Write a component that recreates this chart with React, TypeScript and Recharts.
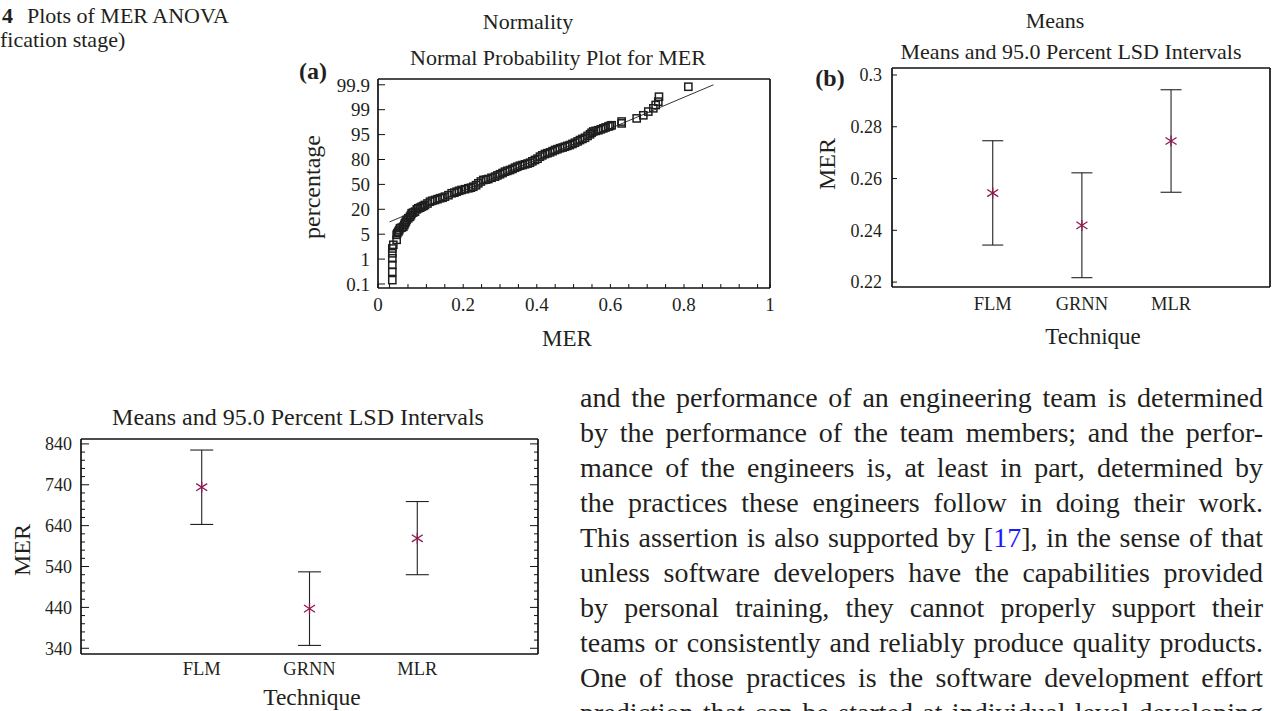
import React from 'react';
import { ScatterChart, Scatter, XAxis, YAxis, ErrorBar } from 'recharts';

const FONT = "'Liberation Serif', 'Times New Roman', Times, serif";
const INK = '#231f20';
const STAR = '#8c1a50';

// ---------- (a) Normal probability plot for MER ----------
const normMER = [
  0.0074, 0.0074, 0.0074, 0.0074, 0.0074, 0.0074, 0.0101, 0.0192, 0.0192, 0.0237, 0.0283, 0.0373, 0.0418, 0.0464, 0.0554, 0.06, 0.069, 0.078, 0.0871, 0.0962, 0.1098, 0.1234, 0.137, 0.1505, 0.1687, 0.1823, 0.1958, 0.214, 0.2275, 0.2411, 0.2547, 0.2683, 0.2864, 0.3, 0.3136, 0.3272, 0.3408, 0.3543, 0.3679, 0.3815, 0.395, 0.4087, 0.4223, 0.4359, 0.4495, 0.463, 0.4766, 0.49, 0.5038, 0.5174, 0.531, 0.5446, 0.5536, 0.5672, 0.5808, 0.5944, 0.6034, 0.6306, 0.6714, 0.6895, 0.703, 0.7167, 0.723, 0.7302, 0.732, 0.8118,
  0.021, 0.026, 0.033, 0.04, 0.044, 0.051, 0.058, 0.064, 0.074, 0.083, 0.092, 0.103, 0.116, 0.13, 0.144, 0.16, 0.176, 0.189, 0.205, 0.221, 0.235, 0.248, 0.262, 0.277, 0.293, 0.307, 0.32, 0.334, 0.347, 0.361, 0.375, 0.388, 0.402, 0.415, 0.429, 0.443, 0.456, 0.47, 0.483, 0.497, 0.511, 0.524, 0.538, 0.549, 0.56, 0.574, 0.587, 0.599, 0.6306,
];
const normPct = [
  0.24, 0.54, 0.79, 1.13, 1.93, 2.7, 3.3, 4.1, 4.9, 6.5, 8.6, 9.5, 11.6, 13.6, 15.5, 17.6, 18.6, 21.2, 23.1, 25.2, 29.2, 31.2, 33.3, 35.2, 39.3, 41.2, 43.3, 45.3, 47.2, 51.3, 55.3, 56.5, 59.3, 62.2, 65.3, 67.3, 70.1, 72.5, 74.2, 76.1, 79.4, 81.7, 83.3, 84.3, 85.7, 86.8, 87.7, 88.7, 90.1, 91.7, 93.1, 95.05, 95.5, 95.7, 96.0, 96.3, 96.5, 97.1, 97.6, 98.1, 98.7, 99.05, 99.17, 99.29, 99.47, 99.83,
  5.6, 7.4, 9.0, 10.6, 12.5, 14.6, 16.5, 18.0, 20.0, 22.0, 24.0, 27.0, 30.3, 32.2, 34.0, 37.0, 40.0, 42.3, 44.2, 46.0, 49.0, 53.5, 55.8, 58.0, 60.8, 63.7, 66.3, 68.6, 71.3, 73.3, 75.1, 77.8, 80.5, 82.5, 83.8, 85.0, 86.2, 87.2, 88.2, 89.4, 90.9, 92.4, 94.2, 95.3, 95.6, 95.85, 96.15, 96.4, 96.8,
];
const fitMER = [0, 0.88];
const fitPct = [12.4, 99.9];
const probTickPct = [0.1, 1, 5, 20, 50, 80, 95, 99, 99.9];
const probTickLabels = ['0.1', '1', '5', '20', '50', '80', '95', '99', '99.9'];
const merTickValues = [-0.0315, 0.2, 0.4, 0.6, 0.8, 1.0337];
const merTickLabels = ['0', '0.2', '0.4', '0.6', '0.8', '1'];
const merDomain: [number, number] = [-0.0315, 1.0337];
const probDomain: [number, number] = [-0.161, 8.233];

// ---------- (b) Means and 95.0 Percent LSD Intervals (MER) ----------
const techniques = ['FLM', 'GRNN', 'MLR'];
const techPos = [1, 2, 3];
const meanB = [0.2544, 0.2419, 0.2745];
const lowerB = [0.2343, 0.2217, 0.2547];
const upperB = [0.2746, 0.2622, 0.2943];
const bTicks = [0.22, 0.24, 0.26, 0.28, 0.3];
const bTickLabels = ['0.22', '0.24', '0.26', '0.28', '0.3'];

// ---------- (c) Means and 95.0 Percent LSD Intervals (bottom) ----------
const meanC = [734, 437, 609];
const lowerC = [643, 347, 520];
const upperC = [825, 527, 699];
const cMajorTicks = [340, 440, 540, 640, 740, 840];
const cMinorStep = 20;

const paraLines: (string | string[])[] = [
  'and the performance of an engineering team is determined',
  'by the performance of the team members; and the perfor-',
  'mance of the engineers is, at least in part, determined by',
  'the practices these engineers follow in doing their work.',
  ['This assertion is also supported by [', '17', '], in the sense of that'],
  'unless software developers have the capabilities provided',
  'by personal training, they cannot properly support their',
  'teams or consistently and reliably produce quality products.',
  'One of those practices is the software development effort',
  'prediction that can be started at individual level developing',
];

// ---------- helpers ----------
const probPos = (p: number) => {
  const t = probTickPct;
  let i = 0;
  while (i < t.length - 2 && p > t[i + 1]) i++;
  return i + (p - t[i]) / (t[i + 1] - t[i]);
};

const normPoints = normMER.map((m, i) => ({ x: m, y: probPos(normPct[i]) }));
const fitPoints = fitMER.map((m, i) => ({ x: m, y: probPos(fitPct[i]) }));
const merMinorTicks = Array.from({ length: 21 }, (_, i) => Math.round(i * 5) / 100);
const merAllTicks = [merTickValues[0], ...merMinorTicks, merTickValues[merTickValues.length - 1]];
const probTickPos = probTickPct.map((_, i) => i);

const bData = techPos.map((x, i) => ({ x, y: meanB[i], err: [meanB[i] - lowerB[i], upperB[i] - meanB[i]] }));
const cData = techPos.map((x, i) => ({ x, y: meanC[i], err: [meanC[i] - lowerC[i], upperC[i] - meanC[i]] }));
const cAllTicks = Array.from({ length: (cMajorTicks[cMajorTicks.length - 1] - cMajorTicks[0]) / cMinorStep + 1 }, (_, i) => cMajorTicks[0] + i * cMinorStep);

const axisLine = { stroke: '#111', strokeWidth: 1.7 };
const tickLine = { stroke: '#111', strokeWidth: 1 };
const tickFont = { fill: INK, fontFamily: FONT };

const Square = (p: any) => {
  if (p.cx == null || p.cy == null) return <g />;
  return <rect x={p.cx - 3.6} y={p.cy - 3.6} width={7.2} height={7.2} fill="none" stroke="#1e1e1e" strokeWidth={1.5} />;
};
const NoShape = () => <g />;
const Star = (p: any) => {
  const { cx, cy } = p;
  if (cx == null || cy == null) return <g />;
  const r = 5.5;
  return (
    <g stroke={STAR} strokeWidth={1.3}>
      <line x1={cx - r} y1={cy - r * 0.65} x2={cx + r} y2={cy + r * 0.65} />
      <line x1={cx - r} y1={cy + r * 0.65} x2={cx + r} y2={cy - r * 0.65} />
      <line x1={cx} y1={cy - r} x2={cx} y2={cy + r} />
    </g>
  );
};

const makeSideTick = (side: 'left' | 'right') => (props: any) => {
  const { x, y, payload } = props;
  const v = payload.value;
  const isMajor = cMajorTicks.includes(v);
  const len = isMajor ? 8 : 4;
  const dir = side === 'left' ? 1 : -1;
  return (
    <g>
      <line x1={x} y1={y} x2={x + dir * len} y2={y} stroke="#111" strokeWidth={1} />
      {side === 'left' && isMajor ? (
        <text x={x - 9} y={y} dy="0.35em" textAnchor="end" fontSize={18} fill={INK} fontFamily={FONT}>
          {v}
        </text>
      ) : null}
    </g>
  );
};

const Txt = ({ x, y, size, children, bold, rotate }: any) => (
  <div
    style={{
      position: 'absolute',
      left: x,
      top: y,
      transform: `translate(-50%, -50%)${rotate ? ' rotate(-90deg)' : ''}`,
      fontSize: size,
      lineHeight: 1,
      whiteSpace: 'nowrap',
      fontWeight: bold ? 700 : 400,
      fontFamily: FONT,
      color: INK,
    }}
  >
    {children}
  </div>
);

const TxtL = ({ x, y, size, children, bold }: any) => (
  <div
    style={{
      position: 'absolute',
      left: x,
      top: y,
      transform: 'translateY(-50%)',
      fontSize: size,
      lineHeight: 1,
      whiteSpace: 'nowrap',
      fontWeight: bold ? 700 : 400,
      fontFamily: FONT,
      color: INK,
    }}
  >
    {children}
  </div>
);

export default function App() {
  return (
    <div
      style={{
        position: 'absolute',
        left: 0,
        top: 0,
        width: 1274,
        height: 711,
        overflow: 'hidden',
        background: '#fff',
        fontFamily: FONT,
        color: INK,
      }}
    >
      {/* caption */}
      <TxtL x={2} y={16} size={22} bold>4</TxtL>
      <TxtL x={27} y={16} size={22}>Plots of MER ANOVA</TxtL>
      <TxtL x={0} y={40} size={22}>fication stage)</TxtL>

      {/* (a) */}
      <Txt x={528} y={22} size={22}>Normality</Txt>
      <Txt x={558} y={58} size={22}>Normal Probability Plot for MER</Txt>
      <Txt x={313} y={71} size={24} bold>(a)</Txt>
      <Txt x={312} y={187} size={24} rotate>percentage</Txt>
      <Txt x={567} y={338} size={23}>MER</Txt>
      <div style={{ position: 'absolute', left: 290, top: 0, fontFamily: FONT }}>
        <ScatterChart width={500} height={360} margin={{ top: 78, right: 19, bottom: 42, left: 28 }} style={{ fontFamily: FONT }}>
          <XAxis
            xAxisId="b"
            dataKey="x"
            type="number"
            domain={merDomain}
            allowDataOverflow
            ticks={merAllTicks}
            interval={0}
            tickFormatter={(v: number) => {
              const i = merTickValues.findIndex((t) => Math.abs(t - v) < 1e-6);
              return i >= 0 ? merTickLabels[i] : '';
            }}
            axisLine={axisLine}
            tickLine={tickLine}
            tickSize={-4}
            tickMargin={14}
            height={30}
            tick={{ ...tickFont, fontSize: 19 }}
          />
          <XAxis
            xAxisId="t"
            orientation="top"
            dataKey="x"
            type="number"
            domain={merDomain}
            allowDataOverflow
            ticks={merMinorTicks}
            interval={0}
            tick={false}
            axisLine={axisLine}
            tickLine={tickLine}
            tickSize={-4}
            height={1}
          />
          <YAxis
            yAxisId="l"
            dataKey="y"
            type="number"
            domain={probDomain}
            allowDataOverflow
            ticks={probTickPos}
            interval={0}
            tickFormatter={(v: number) => probTickLabels[Math.round(v)] ?? ''}
            axisLine={axisLine}
            tickLine={tickLine}
            tickSize={-7}
            tickMargin={15}
            width={60}
            tick={{ ...tickFont, fontSize: 19 }}
          />
          <YAxis
            yAxisId="r"
            orientation="right"
            dataKey="y"
            type="number"
            domain={probDomain}
            allowDataOverflow
            ticks={probTickPos}
            interval={0}
            tick={false}
            axisLine={axisLine}
            tickLine={tickLine}
            tickSize={-7}
            width={1}
          />
          <Scatter xAxisId="b" yAxisId="l" data={fitPoints} line={{ stroke: '#333', strokeWidth: 1 }} shape={NoShape} isAnimationActive={false} />
          <Scatter xAxisId="b" yAxisId="l" data={normPoints} shape={Square} isAnimationActive={false} />
        </ScatterChart>
      </div>

      {/* (b) */}
      <Txt x={1055} y={21} size={22}>Means</Txt>
      <Txt x={1071} y={52} size={22}>Means and 95.0 Percent LSD Intervals</Txt>
      <Txt x={830} y={78} size={24} bold>(b)</Txt>
      <Txt x={827} y={164} size={24} rotate>MER</Txt>
      <Txt x={1093} y={336} size={23}>Technique</Txt>
      <div style={{ position: 'absolute', left: 800, top: 0, fontFamily: FONT }}>
        <ScatterChart width={474} height={360} margin={{ top: 67, right: 3, bottom: 43, left: 32 }} style={{ fontFamily: FONT }}>
          <XAxis
            xAxisId="b"
            dataKey="x"
            type="number"
            domain={[-0.13, 4.11]}
            allowDataOverflow
            ticks={techPos}
            interval={0}
            tickFormatter={(v: number) => techniques[v - 1] ?? ''}
            axisLine={axisLine}
            tickLine={false}
            tickSize={0}
            tickMargin={10}
            height={30}
            tick={{ ...tickFont, fontSize: 18.5 }}
          />
          <XAxis xAxisId="t" orientation="top" dataKey="x" type="number" domain={[-0.13, 4.11]} allowDataOverflow tick={false} tickLine={false} axisLine={axisLine} height={1} />
          <YAxis
            yAxisId="l"
            dataKey="y"
            type="number"
            domain={[0.2181, 0.3027]}
            allowDataOverflow
            ticks={bTicks}
            interval={0}
            tickFormatter={(v: number) => bTickLabels[bTicks.findIndex((t) => Math.abs(t - v) < 1e-9)] ?? ''}
            axisLine={axisLine}
            tickLine={tickLine}
            tickSize={-5}
            tickMargin={15}
            width={60}
            tick={{ ...tickFont, fontSize: 18 }}
          />
          <YAxis
            yAxisId="r"
            orientation="right"
            dataKey="y"
            type="number"
            domain={[0.2181, 0.3027]}
            allowDataOverflow
            ticks={bTicks}
            interval={0}
            tick={false}
            axisLine={axisLine}
            tickLine={tickLine}
            tickSize={-5}
            width={1}
          />
          <Scatter xAxisId="b" yAxisId="l" data={bData} shape={Star} isAnimationActive={false}>
            <ErrorBar dataKey="err" direction="y" width={10.5} stroke="#222" strokeWidth={1.1} isAnimationActive={false} />
          </Scatter>
        </ScatterChart>
      </div>

      {/* (c) bottom chart */}
      <Txt x={298} y={417} size={24}>Means and 95.0 Percent LSD Intervals</Txt>
      <Txt x={22} y={550} size={24} rotate>MER</Txt>
      <Txt x={312} y={698} size={23.5}>Technique</Txt>
      <div style={{ position: 'absolute', left: 0, top: 380, fontFamily: FONT }}>
        <ScatterChart width={560} height={331} margin={{ top: 58, right: 21, bottom: 27, left: 21 }} style={{ fontFamily: FONT }}>
          <XAxis
            xAxisId="b"
            dataKey="x"
            type="number"
            domain={[-0.12, 4.12]}
            allowDataOverflow
            ticks={techPos}
            interval={0}
            tickFormatter={(v: number) => techniques[v - 1] ?? ''}
            axisLine={axisLine}
            tickLine={false}
            tickSize={0}
            tickMargin={8}
            height={30}
            tick={{ ...tickFont, fontSize: 18.5 }}
          />
          <XAxis xAxisId="t" orientation="top" dataKey="x" type="number" domain={[-0.12, 4.12]} allowDataOverflow tick={false} tickLine={false} axisLine={axisLine} height={1} />
          <YAxis
            yAxisId="l"
            dataKey="y"
            type="number"
            domain={[326, 852]}
            allowDataOverflow
            ticks={cAllTicks}
            interval={0}
            axisLine={axisLine}
            tickLine={false}
            tickSize={0}
            tickMargin={0}
            width={60}
            tick={makeSideTick('left')}
          />
          <YAxis
            yAxisId="r"
            orientation="right"
            dataKey="y"
            type="number"
            domain={[326, 852]}
            allowDataOverflow
            ticks={cAllTicks}
            interval={0}
            axisLine={axisLine}
            tickLine={false}
            tickSize={0}
            tickMargin={0}
            width={1}
            tick={makeSideTick('right')}
          />
          <Scatter xAxisId="b" yAxisId="l" data={cData} shape={Star} isAnimationActive={false}>
            <ErrorBar dataKey="err" direction="y" width={11.5} stroke="#222" strokeWidth={1.1} isAnimationActive={false} />
          </Scatter>
        </ScatterChart>
      </div>

      {/* paragraph */}
      <div style={{ position: 'absolute', left: 580, top: 380, width: 683, fontSize: 28, fontFamily: FONT, color: INK }}>
        {paraLines.map((ln, i) => (
          <div key={i} style={{ height: 35, lineHeight: '35px', textAlign: 'justify', textAlignLast: 'justify' } as any}>
            {Array.isArray(ln) ? (
              <>
                {ln[0]}
                <span style={{ color: '#1a1aff' }}>{ln[1]}</span>
                {ln[2]}
              </>
            ) : (
              ln
            )}
          </div>
        ))}
      </div>
    </div>
  );
}
